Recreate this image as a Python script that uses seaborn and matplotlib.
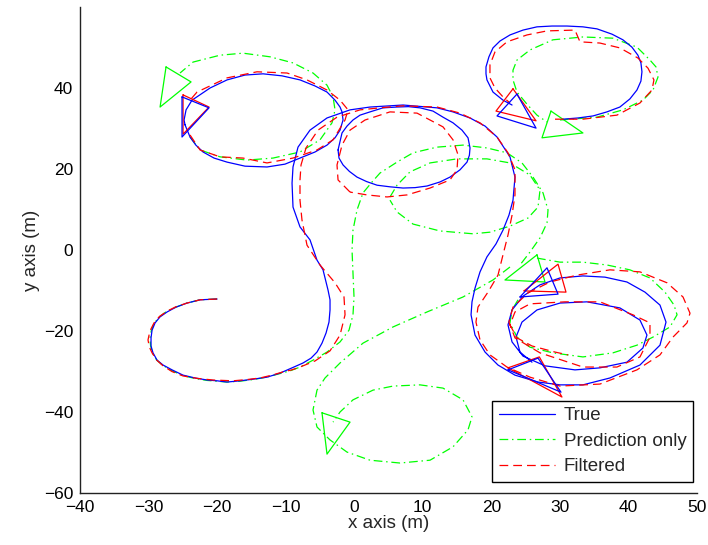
import matplotlib
matplotlib.use("Agg")
import matplotlib.pyplot as plt
import seaborn as sns
from matplotlib.lines import Line2D

# ---------------- data (metres) ----------------
# True trajectories
true_long_x = [-20.01,-22.49,-24.39,-25.99,-27.30,-28.32,-29.05,-29.49,-29.64,-29.64,-29.35,-28.76,-27.89,-26.57,-24.97,-23.22,-21.47,-20.01,-18.55,-16.66,-14.76,-12.72,-10.82,-9.07,-7.47,-6.30,-5.43,-4.70,-4.11,-3.68,-3.53,-3.53,-3.82,-4.55,-5.43,-6.45,-7.91,-8.93,-9.07,-8.93,-8.20,-6.45,-3.97,-0.61,2.30,7.12,12.08,14.41,16.89,19.08,20.83,22.72,23.45,23.16,22.57,21.70,20.68,19.36,18.35,17.62,17.18,17.04,17.62,19.08,20.97,23.45,26.81,30.02,33.36,37.30,41.68,44.60,45.48,44.60,42.41,39.78,36.57,33.36,30.02,27.10,24.62,23.02,22.43,23.02,24.62,27.83,32.20,35.84,39.78,42.11,42.70,41.68,38.75,33.95,30.02,26.66,24.47,23.60,24.18,25.93]
true_long_y = [-12.1,-12.3,-13.1,-14.1,-15.3,-16.5,-18.0,-19.8,-21.7,-23.7,-25.4,-27.2,-28.4,-29.6,-30.9,-31.6,-32.1,-32.3,-32.6,-32.3,-31.9,-31.4,-30.4,-29.1,-27.9,-26.7,-25.2,-23.0,-20.5,-17.8,-14.8,-12.3,-9.9,-4.9,-2.5,2.5,5.7,10.6,16.5,20.5,25.4,29.6,32.6,34.6,35.3,35.8,35.1,34.1,32.6,30.6,27.9,23.0,18.0,12.3,8.6,4.9,1.5,-1.7,-5.4,-9.4,-12.8,-16.0,-21.0,-25.2,-28.4,-30.9,-32.6,-33.3,-33.3,-31.6,-28.4,-23.5,-17.8,-13.6,-10.4,-7.9,-6.7,-6.4,-6.9,-8.6,-11.4,-14.8,-18.5,-22.7,-26.2,-28.6,-29.6,-29.1,-27.7,-24.2,-21.0,-17.3,-14.3,-12.8,-13.1,-14.8,-17.8,-21.5,-25.2,-27.7]

true_ul_x = [-24.68,-23.95,-23.10,-22.05,-20.45,-18.55,-15.93,-12.72,-10.10,-7.91,-5.72,-3.97,-2.80,-2.07,-1.63,-1.78,-2.07,-2.80,-3.97,-5.72,-7.91,-10.53,-13.30,-15.93,-18.55,-21.03,-22.78,-23.66,-24.53,-24.82,-24.68]
true_ul_y = [30.9,27.9,25.9,24.2,22.7,21.7,20.7,20.5,21.2,22.7,24.2,25.9,27.7,29.6,32.1,34.1,35.3,37.0,39.0,40.5,42.0,43.0,43.5,43.2,42.0,40.0,38.0,37.0,34.6,32.1,30.9]

true_mid_x = [-2.36,-1.78,-1.05,-0.18,0.85,2.30,4.20,6.24,7.90,9.60,11.49,12.95,14.41,15.72,16.60,16.89,16.80,16.45,15.43,13.97,12.51,10.62,8.87,7.12,5.22,3.33,1.80,0.41,-0.70,-1.63,-2.22,-2.36]
true_mid_y = [24.7,28.9,30.6,32.1,33.3,34.1,35.1,35.3,35.4,35.1,34.3,32.8,31.4,29.6,27.7,25.2,23.4,21.7,19.8,18.0,16.8,15.8,15.4,15.3,15.6,16.0,16.9,18.0,19.4,21.0,22.7,24.7]

true_ur_x = [30.45,32.64,34.83,36.86,38.75,40.21,41.24,41.82,41.97,41.82,41.38,40.50,39.19,37.59,35.41,33.36,31.04,28.85,26.66,24.62,22.72,21.26,20.24,19.65,19.22,19.22,19.36,20.24,21.70,23.02]
true_ur_y = [32.3,32.6,33.1,34.1,35.3,37.3,39.5,41.7,44.0,46.2,48.1,50.1,51.9,53.3,54.6,55.1,55.3,55.3,55.1,54.3,53.1,51.6,49.9,47.7,45.2,43.5,42.0,39.0,37.0,35.8]

# Filtered trajectories
filt_long_x = [-20.01,-22.49,-24.39,-26.00,-27.30,-28.40,-29.20,-29.80,-30.08,-29.90,-29.49,-28.80,-27.89,-26.60,-24.97,-22.90,-20.60,-17.68,-15.70,-13.74,-12.00,-10.39,-9.10,-7.91,-5.72,-3.53,-2.07,-1.34,-1.49,-2.80,-4.99,-6.89,-7.62,-7.91,-7.91,-7.76,-7.03,-5.28,-2.51,0.85,3.76,7.12,12.08,15.43,18.35,20.83,22.43,23.45,23.45,23.02,22.43,21.70,20.97,19.51,18.05,17.76,18.35,19.80,22.28,25.64,30.02,35.84,41.24,44.60,46.50,48.54,48.98,47.96,45.63,41.68,37.30,32.49,28.56,25.35,23.16,22.57,23.45,27.10,33.36,38.32,41.68,43.14,43.14,40.65,35.84,30.75,25.64,23.45,22.72,23.74,25.93,29.29,31.19]
filt_long_y = [-12.1,-12.3,-13.1,-14.0,-15.1,-16.4,-18.0,-20.0,-22.2,-23.9,-25.4,-27.2,-28.6,-30.0,-31.1,-31.7,-32.1,-32.3,-32.0,-31.6,-30.9,-30.1,-29.6,-28.9,-27.4,-24.9,-21.0,-16.0,-11.6,-8.1,-3.7,1.2,7.4,12.3,17.3,21.0,25.2,29.6,32.8,34.6,35.1,35.6,35.3,33.8,31.4,27.9,24.0,19.8,13.6,8.6,3.7,-1.2,-6.2,-10.4,-14.1,-17.8,-22.2,-25.9,-28.9,-31.4,-33.6,-33.1,-29.6,-25.9,-21.5,-18.0,-15.6,-11.6,-8.1,-5.4,-4.9,-6.2,-7.9,-10.6,-14.1,-17.8,-21.7,-25.4,-28.9,-28.9,-26.4,-21.5,-18.0,-16.0,-12.8,-12.8,-13.3,-15.3,-18.5,-21.7,-23.7,-25.2,-25.9]

filt_ul_x = [-23.95,-22.49,-19.57,-16.22,-12.72,-8.93,-5.43,-3.09,-1.34,-0.90,-2.07,-3.97,-6.89,-9.80,-14.18,-18.55,-22.93,-23.95]
filt_ul_y = [28.4,24.7,23.0,22.7,21.5,22.7,24.7,27.2,32.1,34.6,37.0,39.5,42.0,43.7,44.0,42.5,39.0,37.0]

filt_mid_x = [-0.61,-2.36,-2.51,-1.78,-0.61,1.58,5.22,9.16,12.95,14.41,15.14,14.99,13.97,11.06,7.70,4.78,1.87,-0.61]
filt_mid_y = [14.3,17.3,21.0,25.9,29.6,32.1,34.1,33.8,30.4,27.2,23.5,19.8,17.3,15.3,13.6,13.1,13.6,14.3]

filt_ur_x = [29.29,33.36,38.32,41.68,43.43,43.72,42.85,41.38,38.75,35.84,32.93,32.20,28.12,25.20,22.28,20.53,19.80,19.80,20.53,21.70,22.72]
filt_ur_y = [32.3,32.3,33.3,36.3,39.5,42.0,44.9,47.4,49.9,51.1,51.4,54.3,54.1,53.1,51.4,48.9,45.7,42.5,40.0,37.8,36.3]

# Prediction-only trajectories
pred_long_x = [-20.01,-22.49,-24.39,-26.00,-27.40,-28.40,-29.20,-29.60,-29.80,-29.70,-29.40,-28.80,-27.90,-26.60,-25.00,-23.30,-21.50,-18.60,-16.70,-14.80,-12.80,-10.80,-9.30,-7.90,-6.01,-3.97,-2.07,-0.76,-0.18,-0.03,-0.18,-0.32,-0.18,0.41,1.28,2.60,3.76,6.24,8.58,12.08,15.87,19.36,22.28,24.47,26.08,27.54,28.27,28.12,27.10,25.64,24.18]
pred_long_y = [-12.1,-12.3,-13.1,-14.1,-15.2,-16.5,-18.1,-19.9,-21.8,-23.7,-25.5,-27.2,-28.5,-29.8,-31.0,-31.7,-32.2,-32.6,-32.4,-32.0,-31.4,-30.5,-29.8,-28.9,-27.2,-25.2,-22.7,-19.8,-16.0,-11.6,-5.7,0.0,4.9,9.9,14.1,16.8,19.0,21.7,24.0,25.4,25.9,25.2,24.0,21.5,18.0,14.1,9.9,6.7,3.0,-0.5,-3.7]

pred_ul_x = [-23.95,-22.49,-19.57,-15.64,-11.84,-7.91,-4.99,-3.24,-2.80,-3.09,-3.97,-6.01,-8.93,-12.28,-16.22,-19.57,-23.51,-25.41]
pred_ul_y = [27.9,24.7,23.0,22.2,22.7,24.2,27.2,31.4,34.6,37.8,40.7,43.7,46.2,47.7,48.6,48.1,46.4,43.7]

pred_mid_x = [5.22,6.24,8.14,11.06,14.99,19.36,22.72,25.64,27.10,26.81,25.35,22.72,19.80,17.33,12.51,8.58,6.24,5.22]
pred_mid_y = [13.1,16.0,19.3,21.5,22.5,22.5,21.5,18.5,14.8,10.6,7.9,5.9,4.4,4.0,4.7,6.4,9.4,12.3]

pred_ur_x = [30.02,35.41,39.19,42.11,43.58,44.31,44.02,43.14,41.24,37.73,33.36,28.98,25.64,23.74,23.16,23.16,23.74,25.20,26.66,28.12]
pred_ur_y = [32.1,32.8,34.6,37.0,39.5,42.7,45.2,46.9,50.1,52.3,52.6,51.9,49.4,46.9,44.4,42.0,39.0,36.0,33.3,31.6]

pred_lr_x = [26.66,30.02,33.36,36.86,40.21,43.14,45.33,46.65,47.09,46.06,43.58,41.24,37.73,33.36,28.98,25.64,23.74,22.72,23.02,23.89]
pred_lr_y = [-2.0,-3.0,-3.0,-3.7,-4.9,-6.9,-10.4,-13.6,-16.0,-19.0,-21.5,-23.5,-25.4,-26.4,-25.4,-24.0,-21.5,-18.0,-14.8,-12.3]

pred_low_x = [22.72,20.24,15.87,10.62,5.66,1.28,-2.07,-4.26,-5.43,-6.01,-5.43,-3.53,-1.05,2.30,6.68,11.06,14.41,16.60,17.18,15.87,12.95,9.60,5.66,2.74,-0.18,-2.07,-3.09]
pred_low_y = [-4.2,-7.4,-11.6,-15.3,-19.0,-23.0,-27.9,-31.6,-34.6,-39.5,-43.7,-46.9,-49.9,-51.9,-52.6,-51.9,-48.6,-44.4,-41.2,-37.0,-34.1,-33.3,-33.6,-34.6,-37.0,-40.0,-42.5]

# Pose triangles (closed)
true_tri_x = [[-25.12,-21.18,-25.12,-25.12],[23.74,20.83,26.52,23.74],[24.18,28.12,29.73,24.18],[22.43,26.81,30.16,22.43]]
true_tri_y = [[37.8,35.1,27.9,37.8],[38.5,33.1,30.1,38.5],[-11.6,-4.4,-10.9,-11.6],[-29.6,-26.7,-35.1,-29.6]]
filt_tri_x = [[-24.97,-21.18,-24.97,-24.97],[23.16,20.68,26.52,23.16],[24.77,29.73,30.89,24.77],[22.43,27.00,30.30,22.43]]
filt_tri_y = [[38.3,35.3,28.6,38.3],[39.8,34.3,31.9,39.8],[-10.1,-3.5,-10.4,-10.1],[-29.1,-26.4,-36.3,-29.1]]
pred_tri_x = [[-27.45,-23.80,-28.32,-27.45],[28.70,27.39,33.36,28.70],[26.66,21.99,27.83,26.66],[-4.70,-0.61,-3.97,-4.70]]
pred_tri_y = [[45.2,41.5,35.3,45.2],[34.3,27.7,28.9,34.3],[-1.2,-7.4,-7.9,-1.2],[-40.2,-42.5,-50.4,-40.2]]

series_labels = ["True", "Prediction only", "Filtered"]
x_ticks = [-40, -30, -20, -10, 0, 10, 20, 30, 40, 50]
y_ticks = [-60, -40, -20, 0, 20, 40, 60]
y_tick_labels = ["\u221260", "\u221240", "\u221220", "0", "20", "40", ""]

# ---------------- styling ----------------
sns.set_style("white")
plt.rcParams['font.family'] = ['Liberation Sans', 'DejaVu Sans']

BLUE, GREEN, RED = (0, 0, 1), (0, 1, 0), (1, 0, 0)
LW = 0.9
LS_TRUE = '-'
LS_PRED = (0, (7, 3, 1.2, 3))
LS_FILT = (0, (7, 4))

fig = plt.figure(figsize=(7.08, 5.45), dpi=100)
ax = fig.add_axes([80 / 708, 52 / 545, 617 / 708, 486 / 545])


def draw(x, y, color, ls, z):
    sns.lineplot(x=x, y=y, sort=False, estimator=None, errorbar=None,
                 color=color, linestyle=ls, linewidth=LW, ax=ax,
                 legend=False, zorder=z)


for xs, ys in [(true_long_x, true_long_y), (true_ul_x, true_ul_y),
               (true_mid_x, true_mid_y), (true_ur_x, true_ur_y)]:
    draw(xs, ys, BLUE, LS_TRUE, 3)
for xs, ys in [(pred_long_x, pred_long_y), (pred_ul_x, pred_ul_y),
               (pred_mid_x, pred_mid_y), (pred_ur_x, pred_ur_y),
               (pred_lr_x, pred_lr_y), (pred_low_x, pred_low_y)]:
    draw(xs, ys, GREEN, LS_PRED, 2)
for xs, ys in [(filt_long_x, filt_long_y), (filt_ul_x, filt_ul_y),
               (filt_mid_x, filt_mid_y), (filt_ur_x, filt_ur_y)]:
    draw(xs, ys, RED, LS_FILT, 4)

for xs, ys in zip(pred_tri_x, pred_tri_y):
    draw(xs, ys, GREEN, '-', 2)
for xs, ys in zip(filt_tri_x, filt_tri_y):
    draw(xs, ys, RED, '-', 4)
for xs, ys in zip(true_tri_x, true_tri_y):
    draw(xs, ys, BLUE, '-', 5)

ax.set_xlim(-40, 50)
ax.set_ylim(-60, 60)
ax.set_xticks(x_ticks)
ax.set_yticks(y_ticks)
ax.set_yticklabels(y_tick_labels)
for s in ['top', 'right']:
    ax.spines[s].set_visible(False)
for s in ['left', 'bottom']:
    ax.spines[s].set_color('#222222')
    ax.spines[s].set_linewidth(1.0)
ax.tick_params(direction='in', length=5, width=0.9, colors='#222222',
               labelcolor='black', labelsize=12.5, pad=5)
ax.set_xlabel("x axis (m)", fontsize=13.5, labelpad=0)
ax.set_ylabel("y axis (m)", fontsize=13.5, labelpad=3)

handles = [Line2D([], [], color=BLUE, lw=LW, linestyle=LS_TRUE),
           Line2D([], [], color=GREEN, lw=LW, linestyle=LS_PRED),
           Line2D([], [], color=RED, lw=LW, linestyle=LS_FILT)]
leg = ax.legend(handles, series_labels, loc='lower right',
                bbox_to_anchor=(0.9935, 0.0226), frameon=True, fancybox=False,
                framealpha=1, edgecolor='black', fontsize=13.5,
                handlelength=3.0, handletextpad=0.45, labelspacing=0.45,
                borderpad=0.35, borderaxespad=0)
leg.get_frame().set_linewidth(1.0)

fig.savefig("out.png", dpi=100)
